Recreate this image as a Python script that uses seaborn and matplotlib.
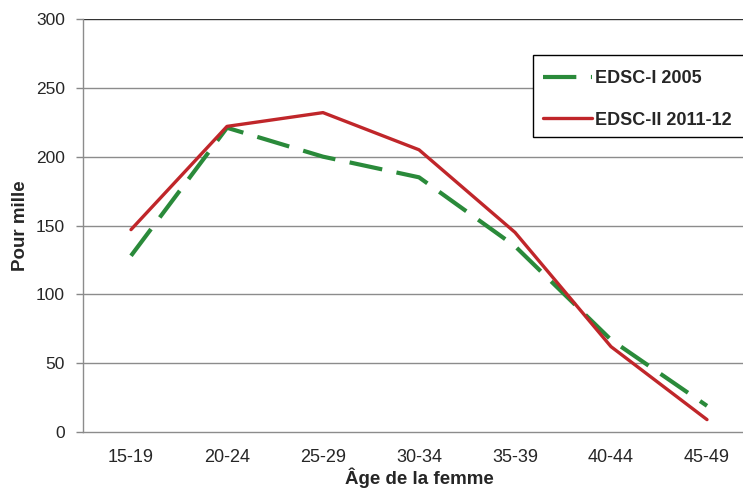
import matplotlib
matplotlib.use("Agg")
import matplotlib.pyplot as plt
import seaborn as sns
import pandas as pd
from matplotlib.lines import Line2D
from matplotlib.patches import Rectangle

ages = ["15-19", "20-24", "25-29", "30-34", "35-39", "40-44", "45-49"]
edsc1_2005 = [128, 221, 200, 185, 135, 67, 19]
edsc2_2011 = [147, 222, 232, 205, 145, 62, 9]
series_names = ["EDSC-I 2005", "EDSC-II 2011-12"]
yticks = [0, 50, 100, 150, 200, 250, 300]

df = pd.DataFrame({
    "age": ages * 2,
    "value": edsc1_2005 + edsc2_2011,
    "series": [series_names[0]] * len(ages) + [series_names[1]] * len(ages),
})

sns.set_theme(style="white")
plt.rcParams["font.family"] = ["Liberation Sans", "DejaVu Sans"]

GREEN = "#2a8a3a"
RED = "#c0262a"
W, H = 743, 493

fig = plt.figure(figsize=(W / 100, H / 100), dpi=100)
ax = fig.add_axes([83 / W, 1 - 432 / H, 672 / W, (432 - 19) / H])

palette = {series_names[0]: GREEN, series_names[1]: RED}
sns.lineplot(data=df, x="age", y="value", hue="series", style="series",
             palette=palette, dashes={series_names[0]: (8, 3.5), series_names[1]: ""},
             ax=ax, legend=False, sort=False)
for ln in ax.get_lines():
    if ln.get_color() == GREEN:
        ln.set_linewidth(3.0)
    else:
        ln.set_linewidth(2.4)

ax.set_xlim(-0.5, 6.5)
ax.set_ylim(0, 300)
ax.set_yticks(yticks)
ax.set_yticklabels([str(v) for v in yticks], fontsize=12.5)
ax.set_xticks(range(len(ages)))
ax.set_xticklabels(ages, fontsize=13)
ax.set_xticks([i + 0.5 for i in range(-1, len(ages))], minor=True)
ax.tick_params(axis="x", which="major", length=0, pad=12)
ax.tick_params(axis="x", which="minor", length=5, width=1, color="#888888", direction="out")
ax.tick_params(axis="y", length=5, width=1, color="#888888", direction="out", pad=8, left=True)

for v in yticks[1:-1]:
    ax.axhline(v, color="#8c8c8c", lw=1, zorder=0)
ax.axhline(300, color="#333333", lw=1, zorder=0)

for s in ["top", "right"]:
    ax.spines[s].set_visible(False)
for s in ["left", "bottom"]:
    ax.spines[s].set_color("#8c8c8c")
    ax.spines[s].set_linewidth(1)

ax.set_xlabel("Âge de la femme", fontsize=13.5, fontweight="bold", labelpad=1)
ax.set_ylabel("Pour mille", fontsize=13.5, fontweight="bold", labelpad=5)

# legend frame (extends past the right edge, as in the reference)
frame = Rectangle((533 / W, 1 - 137 / H), 0.4, 82 / H, transform=fig.transFigure,
                  facecolor="white", edgecolor="black", lw=1.0, clip_on=False, zorder=4)
ax.add_patch(frame)

handles = [Line2D([0], [0], color=GREEN, lw=3.0, dashes=(8, 3.5)),
           Line2D([0], [0], color=RED, lw=2.4)]
leg = ax.legend(handles, series_names, loc="center left",
                bbox_to_anchor=(543 / W, 1 - 99.5 / H), bbox_transform=fig.transFigure,
                prop={"weight": "bold", "size": 13}, frameon=False,
                handlelength=2.7, handletextpad=0.2,
                labelspacing=1.33, borderpad=0, borderaxespad=0)
leg.set_zorder(5)

fig.savefig("out.png", dpi=100)
